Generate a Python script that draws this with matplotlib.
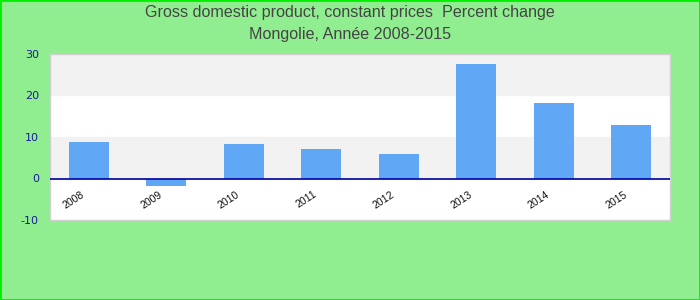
import matplotlib
matplotlib.use('Agg')
import matplotlib.pyplot as plt
import matplotlib.transforms as mtransforms
import numpy as np

# données
annees = ['2008', '2009', '2010', '2011', '2012', '2013', '2014', '2015']
variation = [8.9, -1.9, 8.4, 7.0, 6.0, 27.5, 18.3, 12.8]
yticks = [-10, 0, 10, 20, 30]

fig = plt.figure(figsize=(7, 3), dpi=100, facecolor='#90EE90')
ax = fig.add_axes([50 / 700, 80 / 300, 620 / 700, 166 / 300])
ax.set_facecolor('white')

# bandes grises alternées
for i in range(len(yticks) - 1):
    if i % 2 == 1:
        ax.axhspan(yticks[i], yticks[i + 1], color='#f2f2f2', zorder=0)

x = np.arange(len(annees))
ax.bar(x, variation, width=0.52, color='#60A8F5', zorder=2)
ax.axhline(0, color='#0000a0', linewidth=1.2, zorder=3)

ax.set_xlim(-0.5, len(annees) - 0.5)
ax.set_ylim(-10, 30)
ax.set_yticks(yticks)
ax.set_yticklabels([str(v) for v in yticks], color='#1a1a9c', fontsize=8)
ax.set_xticks(x)
ax.set_xticklabels(annees, rotation=33, fontsize=7.5, color='#111111',
                   family='Liberation Sans')
ax.tick_params(axis='both', length=0)
ax.tick_params(axis='x', pad=-22)
ax.tick_params(axis='y', pad=8)

# décalage des étiquettes vers la gauche
decal = mtransforms.ScaledTranslation(-15 / 100, 0, fig.dpi_scale_trans)
for lab in ax.get_xticklabels():
    lab.set_transform(lab.get_transform() + decal)

for s in ax.spines.values():
    s.set_color('#d0d0d0')
    s.set_linewidth(1)

fig.text(0.5, 1 - 13 / 300, 'Gross domestic product, constant prices  Percent change',
         ha='center', va='center', fontsize=11.6, color='#444444', family='Liberation Sans')
fig.text(0.5, 1 - 35 / 300, 'Mongolie, Année 2008-2015',
         ha='center', va='center', fontsize=11.6, color='#444444', family='Liberation Sans')

# bordure verte
fig.patches.append(plt.Rectangle((0, 0), 1, 1, transform=fig.transFigure,
                                 fill=False, edgecolor='#00ee00', linewidth=2))

fig.savefig('out.png', dpi=100, facecolor=fig.get_facecolor())
